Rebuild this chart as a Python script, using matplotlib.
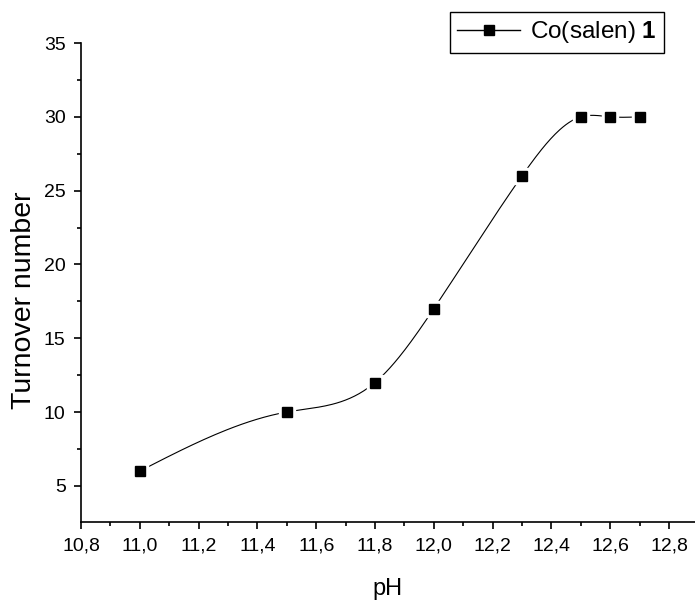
import numpy as np
import matplotlib
matplotlib.use('Agg')
import matplotlib.pyplot as plt
from matplotlib.lines import Line2D
from matplotlib.ticker import FixedLocator, MultipleLocator

plt.rcParams['font.family'] = ['Liberation Sans', 'DejaVu Sans']
plt.rcParams['mathtext.fontset'] = 'custom'
plt.rcParams['mathtext.rm'] = 'Liberation Sans'
plt.rcParams['mathtext.bf'] = 'Liberation Sans:bold'

# data
ph = [11.0, 11.5, 11.8, 12.0, 12.3, 12.5, 12.6, 12.7]
turnover = [6, 10, 12, 17, 26, 30, 30, 30]

x_ticks = [10.8, 11.0, 11.2, 11.4, 11.6, 11.8, 12.0, 12.2, 12.4, 12.6, 12.8]
x_tick_labels = ['10,8', '11,0', '11,2', '11,4', '11,6', '11,8', '12,0', '12,2', '12,4', '12,6', '12,8']
y_ticks = [5, 10, 15, 20, 25, 30, 35]
series_label = 'Co(salen) $\\mathbf{1}$'


def natural_spline(x, y, n=40):
    # smooth connecting line like Origin's spline, passes through the points
    x = np.asarray(x, float)
    y = np.asarray(y, float)
    k = len(x)
    h = np.diff(x)
    A = np.zeros((k, k))
    r = np.zeros(k)
    A[0, 0] = A[-1, -1] = 1
    for i in range(1, k - 1):
        A[i, i - 1] = h[i - 1]
        A[i, i] = 2 * (h[i - 1] + h[i])
        A[i, i + 1] = h[i]
        r[i] = 6 * ((y[i + 1] - y[i]) / h[i] - (y[i] - y[i - 1]) / h[i - 1])
    m = np.linalg.solve(A, r)
    xs, ys = [], []
    for i in range(k - 1):
        t = np.linspace(x[i], x[i + 1], n)
        a = x[i + 1] - t
        b = t - x[i]
        s = (m[i] * a ** 3 + m[i + 1] * b ** 3) / (6 * h[i]) \
            + (y[i] / h[i] - m[i] * h[i] / 6) * a \
            + (y[i + 1] / h[i] - m[i + 1] * h[i] / 6) * b
        xs.extend(t)
        ys.extend(s)
    return np.array(xs), np.array(ys)


fig = plt.figure(figsize=(6.95, 6.01), dpi=100)
ax = fig.add_axes([81 / 695, 79 / 601, 1 - 81 / 695, (522 - 43) / 601])

sx, sy = natural_spline(ph, turnover)
ax.plot(sx, sy, color='black', lw=0.8, zorder=2)
# white halo leaves the small gap around each marker
ax.plot(ph, turnover, ls='none', marker='s', ms=11, color='white', zorder=3)
ax.plot(ph, turnover, ls='none', marker='s', ms=6.8, color='black', zorder=4)

ax.set_xlim(10.8, 12.8 + (695 - 669) / 294)
ax.set_ylim(2.55, 35)
ax.xaxis.set_major_locator(FixedLocator(x_ticks))
ax.set_xticklabels(x_tick_labels)
ax.xaxis.set_minor_locator(MultipleLocator(0.1))
ax.yaxis.set_major_locator(FixedLocator(y_ticks))
ax.yaxis.set_minor_locator(MultipleLocator(2.5))

for side in ['top', 'right']:
    ax.spines[side].set_visible(False)
for side in ['left', 'bottom']:
    ax.spines[side].set_linewidth(1.2)

ax.tick_params(which='major', direction='out', length=5, width=1.2, labelsize=14, pad=6)
ax.tick_params(which='minor', direction='out', length=3, width=1.2)

ax.set_xlabel('pH', fontsize=17, labelpad=17)
ax.set_ylabel('Turnover number', fontsize=20.5)
ax.yaxis.set_label_coords(-0.072, 0.463)

handle = Line2D([], [], color='black', lw=1, marker='s', ms=7)
leg = ax.legend([handle], [series_label], loc='upper right',
                bbox_to_anchor=(664 / 695, 1 - 12 / 601), bbox_transform=fig.transFigure,
                borderaxespad=0, fontsize=17.5, fancybox=False, framealpha=1,
                handlelength=2.6, handletextpad=0.4, borderpad=0.3)
leg.get_frame().set_edgecolor('black')
leg.get_frame().set_linewidth(1.0)

fig.savefig('out.png', dpi=100)
